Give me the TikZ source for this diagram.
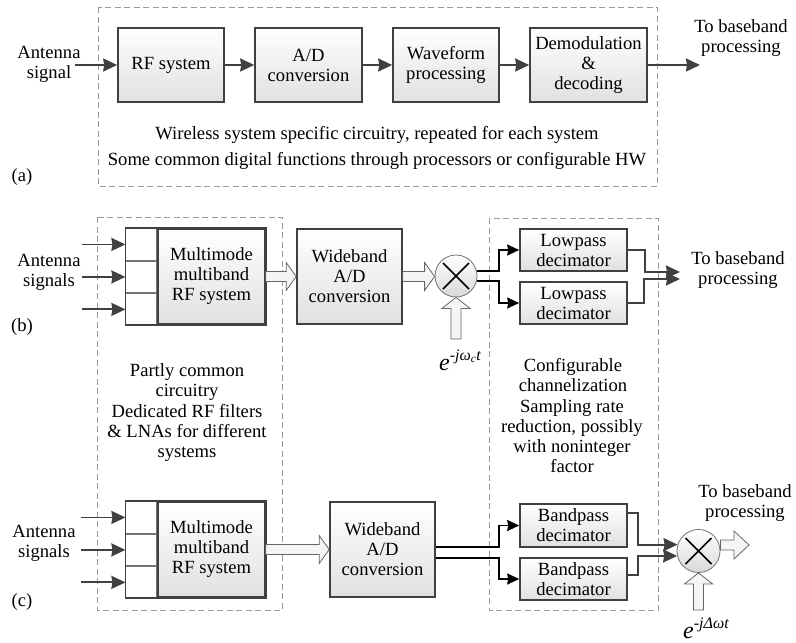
\documentclass[tikz,border=0pt]{standalone}
\usepackage{fontspec}
\setmainfont{Liberation Serif}
\usetikzlibrary{arrows.meta,calc}

\newcommand{\hfat}[3]{%
	\draw[fat] let \p1=(#1), \p2=(#2) in
		(\x1,\y1+5pt) -- (\x2-#3,\y1+5pt) -- (\x2-#3,\y1+14pt) -- (\x2,\y1)
		-- (\x2-#3,\y1-14pt) -- (\x2-#3,\y1-5pt) -- (\x1,\y1-5pt) -- cycle;}
\newcommand{\vfat}[3]{%
	\draw[fat] let \p1=(#1), \p2=(#2) in
		(\x1-5pt,\y1) -- (\x1-5pt,\y2-#3) -- (\x1-14pt,\y2-#3) -- (\x1,\y2)
		-- (\x1+14pt,\y2-#3) -- (\x1+5pt,\y2-#3) -- (\x1+5pt,\y1) -- cycle;}

\begin{document}
\begin{tikzpicture}[x=1pt, y=-1pt, font=\fontsize{18.6}{20}\selectfont,
	every node/.append style={align=center, inner sep=0pt},
	block/.style={draw=black!75, line width=1.6pt, top color=white, bottom color=black!12, minimum width=107pt},
	cell/.style={draw=black!55, line width=0.8pt, fill=white, minimum width=31pt, minimum height=31.67pt},
	outline/.style={draw=black!75, line width=1.6pt},
	area/.style={draw=black!40, line width=0.8pt, dash pattern=on 6pt off 3.5pt},
	sig/.style={draw=black!75, line width=1.8pt, -{Stealth[length=14pt,width=13pt,inset=1pt]}},
	bsig/.style={draw=black, line width=1.8pt, -{Stealth[length=12pt,width=11pt,inset=1pt]}},
	fat/.style={draw=black!60, line width=0.8pt, fill=black!4},
	mixer/.style={circle, draw=black!55, line width=0.8pt, top color=white, bottom color=black!15, minimum size=42pt},
	cross/.style={draw=black, line width=1.6pt}]
	\useasboundingbox (0,0) rectangle (796,643);

	\draw[area] (98,7) rectangle (657,186);
	\node (anta) at (49,64) {Antenna\\signal};
	\node[block, minimum width=106pt, minimum height=74pt] (rf) at (171,65) {RF system};
	\node[block, minimum height=74pt] (ad) at (308.5,65) {A/D\\conversion};
	\node[block, minimum width=106pt, minimum height=74pt] (wf) at (446,65) {Waveform\\processing};
	\node[block, minimum width=117pt, minimum height=74pt] (dem) at (588.5,65) {Demodulation\\\&\\decoding};
	\coordinate (ain) at (75,65);
	\coordinate (aout) at (700,65);
	\draw[sig] (ain) -- (rf.west);
	\draw[sig] (rf.east) -- (ad.west);
	\draw[sig] (ad.east) -- (wf.west);
	\draw[sig] (wf.east) -- (dem.west);
	\draw[sig] (dem.east) -- (aout);
	\node (basea) at (741,38) {To baseband\\processing};
	\node (nwire) at (377,135) {Wireless system specific circuitry, repeated for each system};
	\node (ncomm) at (377,161) {Some common digital functions through processors or configurable HW};
	\node (laba) at (22,177) {(a)};

	\draw[area] (97,217) rectangle (282,610);
	\draw[area] (489,218) rectangle (658,610);
	\node[block, minimum height=95pt] (mmb) at (211.5,276.5) {Multimode\\multiband\\RF system};
	\node[cell, anchor=north east] (mmb1) at (mmb.north west) {};
	\node[cell, anchor=north] (mmb2) at (mmb1.south) {};
	\node[cell, anchor=north] (mmb3) at (mmb2.south) {};
	\draw[outline] (mmb1.north west) rectangle (mmb.south east);
	\foreach \c in {1,2,3}
		\draw[sig] ([xshift=-43pt]mmb\c.west) -- (mmb\c.west);
	\node (antb) at (49,272) {Antenna\\signals};
	\node[block, minimum width=105pt, minimum height=95pt] (wab) at (349.5,276.5) {Wideband\\A/D\\conversion};
	\hfat{mmb.east}{wab.west}{10pt}
	\node[mixer] (mixb) at (456,276) {};
	\draw[cross] ($(mixb)+(-13,-13)$) -- ($(mixb)+(13,13)$) ($(mixb)+(-13,13)$) -- ($(mixb)+(13,-13)$);
	\hfat{wab.east}{mixb.west}{10pt}
	\coordinate (lob) at (456,339);
	\vfat{lob}{mixb.south}{11pt}
	\node (wcb) at (460,360) {{\fontsize{24}{24}\selectfont\itshape e}\raisebox{10pt}{\fontsize{16}{16}\selectfont\itshape -jω\textsubscript{c}t}};
	\node[block, minimum height=42pt] (lp1) at (573.5,250) {Lowpass\\decimator};
	\node[block, minimum height=42pt] (lp2) at (573.5,303) {Lowpass\\decimator};
	\draw[bsig] (mixb.14) -| ([xshift=-20pt]lp1.west) -- (lp1.west);
	\draw[bsig] (mixb.-14) -| ([xshift=-20pt]lp2.west) -- (lp2.west);
	\coordinate (bo1) at (680,272);
	\coordinate (bo2) at (680,279);
	\draw[sig] (lp1.east) -| ([xshift=-35pt]bo1) -- (bo1);
	\draw[sig] (lp2.east) -| ([xshift=-36pt]bo2) -- (bo2);
	\node (baseb) at (738,270) {To baseband\\processing};
	\node (labb) at (22,327) {(b)};
	\node (npart) at (187,382) {Partly common\\circuitry};
	\node (nded) at (187,433) {Dedicated RF filters\\\& LNAs for different\\systems};
	\node (ncfg) at (573,375) {Configurable\\channelization};
	\node (nsmp) at (572,436) {Sampling rate\\reduction, possibly\\with noninteger\\factor};

	\node[block, minimum height=95pt] (mmc) at (211.5,549.5) {Multimode\\multiband\\RF system};
	\node[cell, anchor=north east] (mmc1) at (mmc.north west) {};
	\node[cell, anchor=north] (mmc2) at (mmc1.south) {};
	\node[cell, anchor=north] (mmc3) at (mmc2.south) {};
	\draw[outline] (mmc1.north west) rectangle (mmc.south east);
	\foreach \c in {1,2,3}
		\draw[sig] ([xshift=-44pt]mmc\c.west) -- (mmc\c.west);
	\node (antc) at (44,543) {Antenna\\signals};
	\node[block, minimum width=105pt, minimum height=95pt] (wac) at (382.5,549.5) {Wideband\\A/D\\conversion};
	\hfat{mmc.east}{wac.west}{10pt}
	\node[block, minimum height=43pt] (bp1) at (573.5,525.5) {Bandpass\\decimator};
	\node[block, minimum height=42pt] (bp2) at (573.5,579) {Bandpass\\decimator};
	\draw[bsig] ([yshift=2.5pt]wac.east) -| ([xshift=-20pt]bp1.west) -- (bp1.west);
	\draw[bsig] ([yshift=-8.5pt]wac.east) -| ([xshift=-20pt]bp2.west) -- (bp2.west);
	\node[mixer, minimum size=43pt] (mixc) at (698.5,551) {};
	\draw[cross] ($(mixc)+(-13,-13)$) -- ($(mixc)+(13,13)$) ($(mixc)+(-13,13)$) -- ($(mixc)+(13,-13)$);
	\draw[sig] ([yshift=12.5pt]bp1.east) -- ++(10,0) |- (mixc.163);
	\draw[sig] ([yshift=4pt]bp2.east) -- ++(10,0) |- (mixc.193);
	\coordinate (outc) at (749,545);
	\hfat{[yshift=6pt]mixc.east}{outc}{15pt}
	\coordinate (loc) at (698.5,610);
	\vfat{loc}{mixc.south}{11pt}
	\node (wcc) at (706,628) {{\fontsize{24}{24}\selectfont\itshape e}\raisebox{10pt}{\fontsize{16}{16}\selectfont\itshape -jΔωt}};
	\node (basec) at (745,503) {To baseband\\processing};
	\node (labc) at (22,602) {(c)};
\end{tikzpicture}
\end{document}
